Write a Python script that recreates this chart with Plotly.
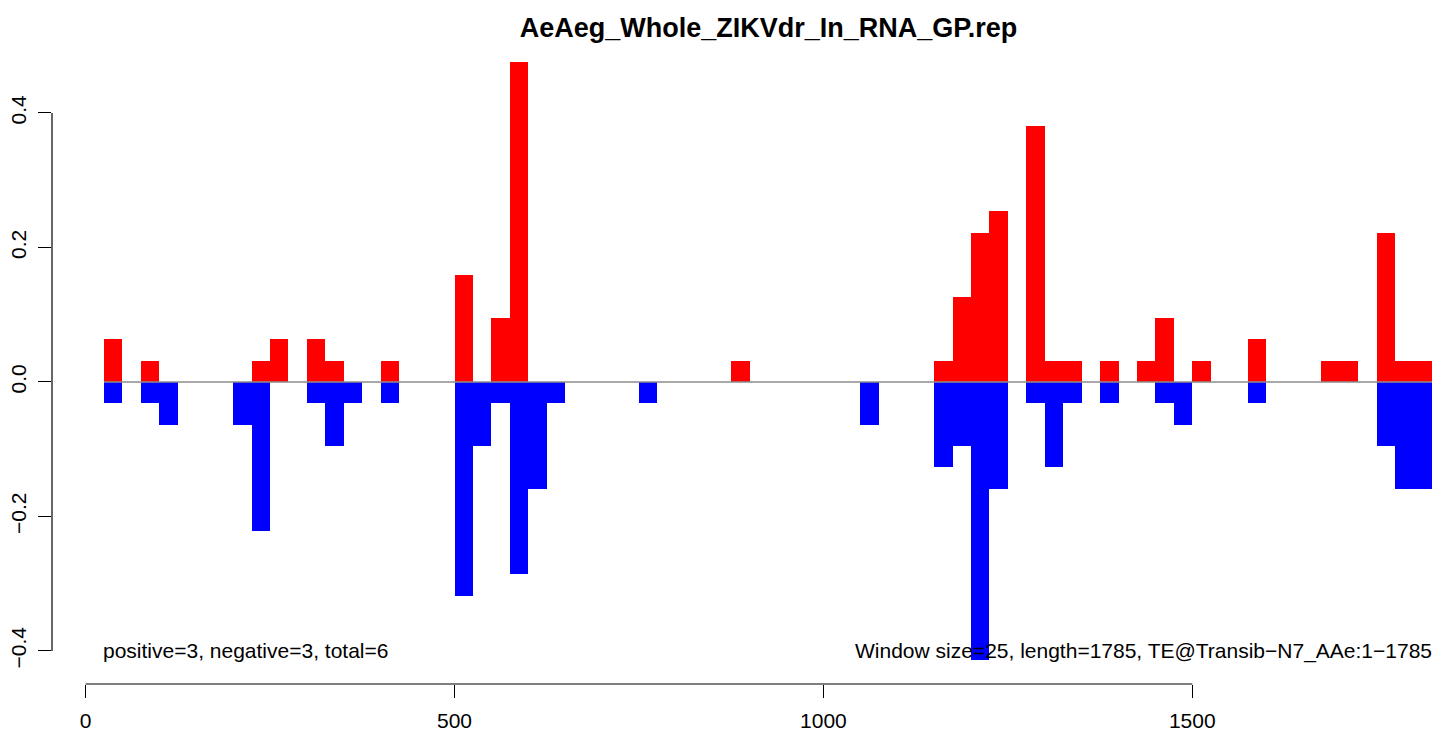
import plotly.graph_objects as go

# ---- data ----
title_text = "AeAeg_Whole_ZIKVdr_In_RNA_GP.rep"
window = 25
bin_start = [25, 75, 100, 200, 225, 250, 300, 325, 350, 400,
             500, 525, 550, 575, 600, 625, 750, 875, 1050,
             1150, 1175, 1200, 1225, 1275, 1300, 1325, 1375,
             1425, 1450, 1475, 1500, 1575, 1675, 1700, 1750, 1775, 1800]
positive = [0.0635, 0.0317, 0.0, 0.0, 0.0317, 0.0635, 0.0635, 0.0317, 0.0, 0.0317,
            0.1587, 0.0, 0.0952, 0.4762, 0.0, 0.0, 0.0, 0.0317, 0.0,
            0.0317, 0.127, 0.2222, 0.254, 0.381, 0.0317, 0.0317, 0.0317,
            0.0317, 0.0952, 0.0, 0.0317, 0.0635, 0.0317, 0.0317, 0.2222, 0.0317, 0.0317]
negative = [-0.0317, -0.0317, -0.0635, -0.0635, -0.2222, 0.0, -0.0317, -0.0952, -0.0317, -0.0317,
            -0.3175, -0.0952, -0.0317, -0.2857, -0.1587, -0.0317, -0.0317, 0.0, -0.0635,
            -0.127, -0.0952, -0.4127, -0.1587, -0.0317, -0.127, -0.0317, -0.0317,
            0.0, -0.0317, -0.0635, 0.0, -0.0317, 0.0, 0.0, -0.0952, -0.1587, -0.1587]
x_ticks = [0, 500, 1000, 1500]
y_ticks = [-0.4, -0.2, 0.0, 0.2, 0.4]
y_ticklabels = ["\u22120.4", "\u22120.2", "0.0", "0.2", "0.4"]
left_note = "positive=3, negative=3, total=6"
right_note = "Window size=25, length=1785, TE@Transib\u2212N7_AAe:1\u22121785"

FONT = "Liberation Sans, Arial, Helvetica, sans-serif"
centers = [s + window / 2 for s in bin_start]
x_lo = min(bin_start)
x_hi = max(bin_start) + window

# the page body has an 8px margin, so the figure is sized to fill the rest
W, H = 1433, 723

fig = go.Figure()
fig.add_trace(go.Bar(x=centers, y=positive, width=window, marker=dict(color="#FF0000", line=dict(width=0)),
                     showlegend=False, hoverinfo="x+y"))
fig.add_trace(go.Bar(x=centers, y=negative, width=window, marker=dict(color="#0000FF", line=dict(width=0)),
                     showlegend=False, hoverinfo="x+y"))
fig.add_trace(go.Scatter(x=[x_lo, x_hi], y=[0, 0], mode="lines",
                         line=dict(color="#8c8c8c", width=1.3), showlegend=False, hoverinfo="skip"))

# R-style detached axis lines spanning the tick range
fig.add_shape(type="line", xref="paper", yref="y", x0=0, x1=0, y0=min(y_ticks), y1=max(y_ticks),
              line=dict(color="black", width=1.2))
fig.add_shape(type="line", xref="x", yref="paper", x0=min(x_ticks), x1=max(x_ticks), y0=0, y1=0,
              line=dict(color="black", width=1.2))

fig.add_annotation(x=x_lo, y=min(y_ticks), xref="x", yref="y", text=left_note, showarrow=False,
                   xanchor="left", yanchor="middle", xshift=-3,
                   font=dict(family=FONT, size=21, color="black"))
fig.add_annotation(x=x_hi, y=min(y_ticks), xref="x", yref="y", text=right_note, showarrow=False,
                   xanchor="right", yanchor="middle", xshift=2,
                   font=dict(family=FONT, size=21, color="black"))

fig.update_layout(
    width=W, height=H,
    margin=dict(l=44, r=0, t=30, b=47),
    paper_bgcolor="white", plot_bgcolor="white",
    barmode="overlay", bargap=0,
    title=dict(text="<b>" + title_text + "</b>", x=760.5 / W, xref="container", xanchor="center",
               y=1 - 20 / H, yref="container", yanchor="middle",
               font=dict(family=FONT, size=27, color="black")),
    font=dict(family=FONT, size=21, color="black"),
    xaxis=dict(range=[-45.54, 1837.1], showgrid=False, zeroline=False, showline=False,
               tickmode="array", tickvals=x_ticks, ticktext=[str(v) for v in x_ticks],
               ticks="outside", ticklen=13, tickwidth=1.2, tickcolor="black", ticklabelstandoff=5,
               tickfont=dict(family=FONT, size=21, color="black")),
    yaxis=dict(range=[-0.4491, 0.5115], showgrid=False, zeroline=False, showline=False,
               tickmode="array", tickvals=y_ticks, ticktext=y_ticklabels, tickangle=-90,
               ticks="outside", ticklen=13, tickwidth=1.2, tickcolor="black", ticklabelstandoff=4,
               tickfont=dict(family=FONT, size=21, color="black")),
)

fig.write_html("out.html")
